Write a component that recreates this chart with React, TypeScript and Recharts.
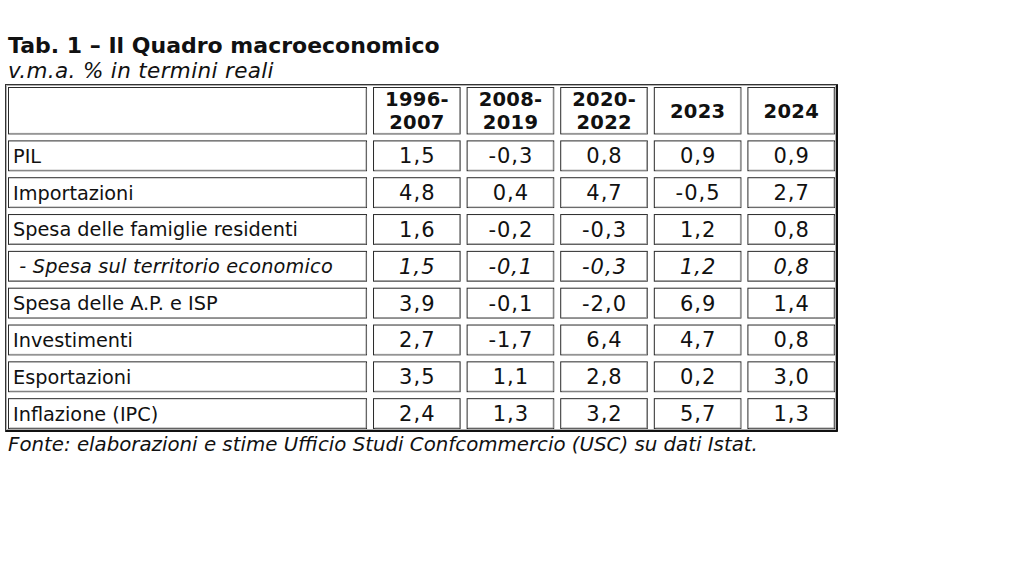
import React from 'react';
import { ComposedChart, XAxis, YAxis, ReferenceArea } from 'recharts';

const periods: string[][] = [["1996-", "2007"], ["2008-", "2019"], ["2020-", "2022"], ["2023"], ["2024"]];
const rowLabels = [
  "PIL",
  "Importazioni",
  "Spesa delle famiglie residenti",
  " - Spesa sul territorio economico",
  "Spesa delle A.P. e ISP",
  "Investimenti",
  "Esportazioni",
  "Inflazione (IPC)",
];
const pil = [1.5, -0.3, 0.8, 0.9, 0.9];
const importazioni = [4.8, 0.4, 4.7, -0.5, 2.7];
const spesaFamiglie = [1.6, -0.2, -0.3, 1.2, 0.8];
const spesaTerritorio = [1.5, -0.1, -0.3, 1.2, 0.8];
const spesaAP = [3.9, -0.1, -2.0, 6.9, 1.4];
const investimenti = [2.7, -1.7, 6.4, 4.7, 0.8];
const esportazioni = [3.5, 1.1, 2.8, 0.2, 3.0];
const inflazione = [2.4, 1.3, 3.2, 5.7, 1.3];
const italicRows = [3];

const rowValues = [pil, importazioni, spesaFamiglie, spesaTerritorio, spesaAP, investimenti, esportazioni, inflazione];

const title = "Tab. 1 – Il Quadro macroeconomico";
const subtitle = "v.m.a. % in termini reali";
const source = "Fonte: elaborazioni e stime Ufficio Studi Confcommercio (USC) su dati Istat.";

// layout units
const LABEL_W = 3.9;
const HEADER_H = 1.45;
const X_MAX = LABEL_W + periods.length;
const Y_MAX = HEADER_H + rowLabels.length;
const FONT = '"DejaVu Sans", Verdana, sans-serif';

const fmt = (v: number) => v.toFixed(1).replace('.', ',');

type CellProps = {
  x?: number; y?: number; width?: number; height?: number;
  lines: string[]; align: 'left' | 'center'; bold?: boolean; italic?: boolean;
  fontSize: number; spacing?: number;
};

const Cell = ({ x = 0, y = 0, width = 0, height = 0, lines, align, bold, italic, fontSize, spacing = 0 }: CellProps) => {
  const inset = 3;
  const rx = x + inset;
  const ry = y + inset;
  const rw = width - inset * 2;
  const rh = height - inset * 2;
  const cy = y + height / 2;
  const lh = 23;
  const startY = cy - ((lines.length - 1) * lh) / 2 + fontSize * 0.36;
  const tx = align === 'left' ? rx + 5 : rx + rw / 2 + spacing / 2;
  return (
    <g>
      <rect x={rx + 0.5} y={ry + 0.5} width={rw - 1} height={rh - 1} fill="#fff" stroke="#2a2a2a" strokeWidth={1} />
      <line x1={rx + 1.5} y1={ry + rh - 1} x2={rx + rw - 1} y2={ry + rh - 1} stroke="#9a9a9a" strokeWidth={1} />
      <line x1={rx + rw - 1} y1={ry + 1.5} x2={rx + rw - 1} y2={ry + rh - 1} stroke="#9a9a9a" strokeWidth={1} />
      {lines.map((t, i) => (
        <text
          key={i}
          x={tx}
          y={startY + i * lh}
          textAnchor={align === 'left' ? 'start' : 'middle'}
          fontFamily={FONT}
          fontSize={fontSize}
          letterSpacing={spacing}
          fontWeight={bold ? 'bold' : 'normal'}
          fontStyle={italic ? 'italic' : 'normal'}
          fill="#111"
          style={{ whiteSpace: 'pre' }}
          xmlSpace="preserve"
        >
          {t}
        </text>
      ))}
    </g>
  );
};

const OuterBorder = ({ x = 0, y = 0, width = 0, height = 0 }: any) => (
  <g>
    <rect x={x + 0.5} y={y + 0.5} width={width - 1} height={height - 1} fill="#fff" stroke="#333" strokeWidth={1} />
    <line x1={x + 1} y1={y + height - 1} x2={x + width - 1} y2={y + height - 1} stroke="#111" strokeWidth={2} />
    <line x1={x + width - 1} y1={y + 1} x2={x + width - 1} y2={y + height - 1} stroke="#111" strokeWidth={2} />
    <rect x={x + 1.5} y={y + 1.5} width={width - 4} height={height - 4} fill="none" stroke="#b0b0b0" strokeWidth={1} />
  </g>
);

const colX = (c: number): [number, number] =>
  c === 0 ? [0, LABEL_W] : [LABEL_W + c - 1, LABEL_W + c];
const rowY = (r: number): [number, number] =>
  r < 0 ? [0, HEADER_H] : [HEADER_H + r, HEADER_H + r + 1];

export default function App() {
  const areas: React.ReactNode[] = [];
  areas.push(
    <ReferenceArea key="outer" x1={0} x2={X_MAX} y1={0} y2={Y_MAX} ifOverflow="visible" shape={(p: any) => <OuterBorder {...p} />} />
  );
  for (let c = 0; c <= periods.length; c++) {
    const [x1, x2] = colX(c);
    const [y1, y2] = rowY(-1);
    const lines = c === 0 ? [] : periods[c - 1];
    areas.push(
      <ReferenceArea key={`h${c}`} x1={x1} x2={x2} y1={y1} y2={y2} ifOverflow="visible"
        shape={(p: any) => <Cell {...p} lines={lines} align="center" bold fontSize={19.5} spacing={0.3} />} />
    );
  }
  rowLabels.forEach((label, r) => {
    const italic = italicRows.includes(r);
    const [y1, y2] = rowY(r);
    const [lx1, lx2] = colX(0);
    areas.push(
      <ReferenceArea key={`l${r}`} x1={lx1} x2={lx2} y1={y1} y2={y2} ifOverflow="visible"
        shape={(p: any) => <Cell {...p} lines={[label]} align="left" italic={italic} fontSize={19.3} spacing={italic ? 0.2 : 0} />} />
    );
    rowValues[r].forEach((v, c) => {
      const [x1, x2] = colX(c + 1);
      areas.push(
        <ReferenceArea key={`v${r}-${c}`} x1={x1} x2={x2} y1={y1} y2={y2} ifOverflow="visible"
          shape={(p: any) => <Cell {...p} lines={[fmt(v)]} align="center" italic={italic} fontSize={21} spacing={1} />} />
      );
    });
  });

  const data = rowLabels.map((l, i) => ({ name: l, x: 0, y: i }));

  return (
    <div style={{ position: 'absolute', left: 0, top: 0, width: 1024, height: 576, background: '#fff' }}>
      <div style={{ position: 'absolute', left: 8, top: 35, fontFamily: FONT, fontSize: 22, lineHeight: '22px', fontWeight: 'bold', color: '#111', whiteSpace: 'nowrap' }}>{title}</div>
      <div style={{ position: 'absolute', left: 8, top: 59.5, fontFamily: FONT, fontSize: 21.5, lineHeight: '21.5px', letterSpacing: 0.35, fontStyle: 'italic', color: '#111', whiteSpace: 'nowrap' }}>{subtitle}</div>
      <div style={{ position: 'absolute', left: 0, top: 0 }}>
        <ComposedChart width={1024} height={576} data={data} margin={{ left: 5, top: 84, right: 186, bottom: 144 }}>
          <XAxis type="number" dataKey="x" domain={[0, X_MAX]} hide allowDataOverflow />
          <YAxis type="number" dataKey="y" domain={[0, Y_MAX]} reversed hide allowDataOverflow />
          {areas}
        </ComposedChart>
      </div>
      <div style={{ position: 'absolute', left: 8, top: 435, fontFamily: FONT, fontSize: 19.8, lineHeight: '19.8px', fontStyle: 'italic', color: '#111', whiteSpace: 'nowrap' }}>{source}</div>
    </div>
  );
}
